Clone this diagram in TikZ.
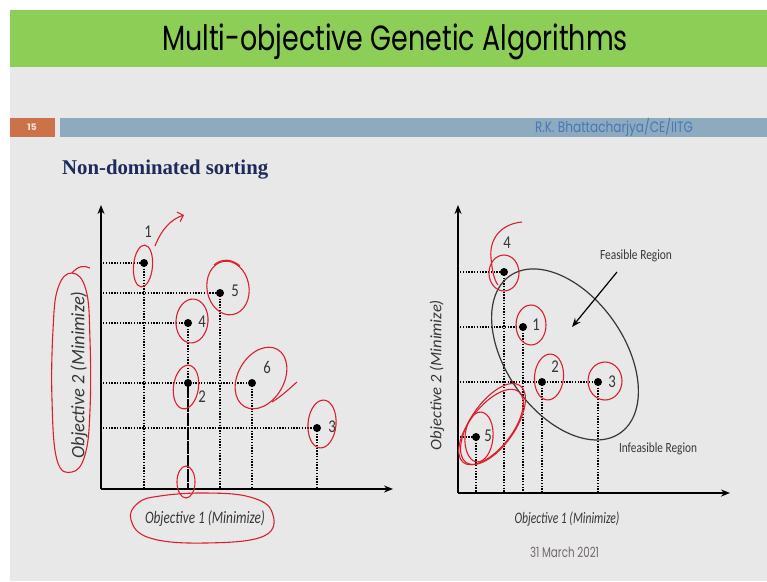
\documentclass[tikz,border=0pt]{standalone}
\usepackage{fontspec}
\setmainfont{Carlito}
\newfontfamily\gothic{Poppins}
\newfontfamily\headserif{Liberation Serif}
\usetikzlibrary{arrows.meta}

\definecolor{slidegrey}{RGB}{232,232,232}
\definecolor{titlegreen}{RGB}{140,206,86}
\definecolor{barblue}{RGB}{141,170,190}
\definecolor{pageorange}{RGB}{204,114,74}
\definecolor{authorblue}{RGB}{72,120,185}
\definecolor{headnavy}{RGB}{30,42,90}
\definecolor{inkred}{RGB}{218,32,44}
\definecolor{dategrey}{RGB}{115,105,105}
\definecolor{labelgrey}{RGB}{55,55,55}

% slide text is set a little condensed
\newcommand{\narrow}[1]{\scalebox{0.82}[1]{#1}}

\tikzset{
  guide/.style={line width=1.6pt, dash pattern=on 1.3pt off 1.5pt},
  axis/.style={line width=1.5pt, -{Stealth[length=9pt,width=7pt]}},
  ink/.style={draw=inkred, line width=1.1pt},
  num/.style={font=\fontsize{18}{20}\selectfont, text=labelgrey, inner sep=0pt},
  axlabel/.style={text=labelgrey, inner sep=0pt},
}

\begin{document}
\begin{tikzpicture}[x=1pt,y=-1pt]
\useasboundingbox (0,0) rectangle (767,581);
% slide
\fill[white] (0,0) rectangle (767,581);
\fill[slidegrey] (10,10) rectangle (767,581);
\fill[titlegreen] (10,10) rectangle (767,67);
\node[anchor=base, inner sep=0pt] (title) at (395,50)
  {\resizebox{466pt}{\height}{\gothic\fontsize{35}{40}\selectfont Multi-objective Genetic Algorithms}};
\fill[pageorange] (10,118) rectangle (55,137);
\fill[barblue] (60,118) rectangle (767,137);
\node[text=white!80!pageorange, font=\gothic\bfseries\fontsize{9}{10}\selectfont] (pageno) at (32,127.5) {15};
\node[anchor=base, inner sep=0pt, text=authorblue] (author) at (614,132)
  {\resizebox{158pt}{\height}{\gothic\fontsize{15}{17}\selectfont R.K. Bhattacharjya/CE/IITG}};
\node[anchor=base west, inner sep=0pt, text=headnavy] (heading) at (62,174)
  {\resizebox{206pt}{\height}{\headserif\bfseries\fontsize{21}{24}\selectfont Non-dominated sorting}};
\node[anchor=base, inner sep=0pt, text=dategrey] (date) at (564.5,557.3)
  {\resizebox{69pt}{\height}{\gothic\fontsize{14}{16}\selectfont 31 March 2021}};

% left chart
\coordinate (lO) at (101,489);
\coordinate (lY) at (101,205);
\coordinate (lX) at (393,489);
\coordinate (a1) at (144,263);
\coordinate (a5) at (220,293);
\coordinate (a4) at (188,323);
\coordinate (a2) at (188,383);
\coordinate (a6) at (252,383);
\coordinate (a3) at (317,428);
\foreach \p in {a1,a5,a4,a6,a3}
  \draw[guide] (\p -| lO) ++(2,0) -- (\p);
\foreach \p in {a1,a5,a4,a2,a6,a3}
  \draw[guide] (\p) -- (\p |- lO);
\draw[axis] (lO) -- (lY);
\draw[axis] (lO) -- (lX);
\foreach \p in {a1,a5,a4,a2,a6,a3}
  \fill (\p) circle (4pt);
\node[num] (n1) at (148,232) {\narrow{1}};
\node[num] (n5) at (235,291) {\narrow{5}};
\node[num] (n4) at (202,322) {\narrow{4}};
\node[num] (n2) at (202,397) {\narrow{2}};
\node[num] (n6) at (267,367) {\narrow{6}};
\node[num] (n3) at (332,427) {\narrow{3}};
\node[axlabel, anchor=base] (lxlab) at (205,523)
  {\resizebox{120pt}{\height}{\itshape\fontsize{17.5}{20}\selectfont Objective 1 (Minimize)}};
\node[axlabel, rotate=90] (lylab) at (79,375)
  {\resizebox{167pt}{\height}{\itshape\fontsize{19}{21}\selectfont Objective 2 (Minimize)}};

% right chart
\coordinate (rO) at (458,493);
\coordinate (rY) at (458,205);
\coordinate (rX) at (730,493);
\coordinate (b4) at (504,272);
\coordinate (b1) at (523,327);
\coordinate (b2) at (542,382);
\coordinate (b3) at (598,382);
\coordinate (b5) at (476,437);
\foreach \p in {b4,b1,b3,b5}
  \draw[guide] (\p -| rO) ++(2,0) -- (\p);
\foreach \p in {b4,b1,b2,b3,b5}
  \draw[guide] (\p) -- (\p |- rO);
\draw[axis] (rO) -- (rY);
\draw[axis] (rO) -- (rX);
\foreach \p in {b4,b1,b2,b3,b5}
  \fill (\p) circle (4pt);
\node[num] (m4) at (507,243) {\narrow{4}};
\node[num] (m1) at (536,325) {\narrow{1}};
\node[num] (m2) at (555,367) {\narrow{2}};
\node[num] (m3) at (612,382) {\narrow{3}};
\node[num] (m5) at (488,436) {\narrow{5}};
\coordinate (rc) at (565,354.5);
\draw[line width=1.2pt, labelgrey, rotate around={-54.8:(rc)}] (rc) ellipse (96pt and 59pt);
\node[axlabel] (feas) at (636,256)
  {\resizebox{72pt}{\height}{\fontsize{14}{16}\selectfont Feasible Region}};
\node[axlabel] (infeas) at (658,449)
  {\resizebox{78pt}{\height}{\fontsize{14}{16}\selectfont Infeasible Region}};
\coordinate (fA) at (617,272);
\coordinate (fB) at (572,327);
\draw[line width=1.2pt, -{Stealth[length=9pt,width=7pt]}] (fA) -- (fB);
\node[axlabel, anchor=base] (rxlab) at (567,523)
  {\resizebox{105pt}{\height}{\itshape\fontsize{16}{18}\selectfont Objective 1 (Minimize)}};
\node[axlabel, rotate=90] (rylab) at (437,375)
  {\resizebox{150pt}{\height}{\itshape\fontsize{16}{18}\selectfont Objective 2 (Minimize)}};

% red pen marks, left
\draw[ink, rotate around={-5:(143,266)}] (143,266) ellipse (9.5 and 21);
\draw[ink, -{Straight Barb[length=5pt]}] (155,246) .. controls (162,228) and (172,219) .. (184,215);
\draw[ink, rotate around={10:(228,288)}] (228,288) ellipse (21 and 27);
\draw[ink] (214,265) .. controls (222,258) and (232,259) .. (240,266);
\draw[ink, rotate around={-5:(192,321)}] (192,321) ellipse (16 and 22);
\draw[ink, rotate around={-8:(186,387)}] (186,387) ellipse (12.5 and 22);
\draw[ink, rotate around={-30:(261,378)}] (261,378) ellipse (23 and 33);
\draw[ink] (272,402) .. controls (282,396) and (290,388) .. (297,382);
\draw[ink, rotate around={-5:(322,424)}] (322,424) ellipse (14 and 24);
\draw[ink] (186,482) ellipse (9 and 16);
\draw[ink] plot[smooth cycle, tension=0.7] coordinates
  {(72,273) (86,290) (90,340) (90,410) (85,455) (72,472) (57,460) (52,400) (53,330) (58,288)};
\draw[ink] (72,273) .. controls (78,266) and (84,265) .. (90,268);
\draw[ink] plot[smooth cycle, tension=0.7] coordinates
  {(160,496) (205,493) (250,497) (272,512) (264,536) (205,543) (150,538) (131,520) (138,503)};

% red pen marks, right
\draw[ink] (504,273) ellipse (15 and 18);
\draw[ink] (522,222) .. controls (500,224) and (489,240) .. (491,258) .. controls (492,270) and (494,280) .. (498,285);
\draw[ink] (531,325) ellipse (15 and 20);
\draw[ink, rotate around={-5:(549,377)}] (549,377) ellipse (14.5 and 23);
\draw[ink] (605,381) ellipse (17 and 19);
\draw[ink, rotate around={55:(493,424)}] (493,424) ellipse (47 and 22);
\draw[ink, rotate around={52:(491,427)}] (491,427) ellipse (45 and 21);
\draw[ink, rotate around={-5:(479,437)}] (479,437) ellipse (14 and 25);
\end{tikzpicture}
\end{document}
